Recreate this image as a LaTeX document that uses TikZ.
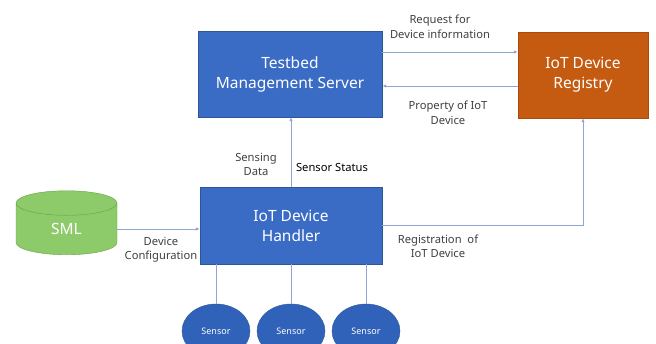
\documentclass[tikz,border=0pt]{standalone}
\usepackage{fontspec}
\setmainfont{Noto Sans}
\usetikzlibrary{positioning,arrows.meta,shapes.geometric}
\definecolor{iotblue}{HTML}{3A6CC6}
\definecolor{iotblueedge}{HTML}{2F5597}
\definecolor{iotorange}{HTML}{C55A11}
\definecolor{iotorangeedge}{HTML}{A84B0C}
\definecolor{iotgreen}{HTML}{8DCB6A}
\definecolor{iotgreenedge}{HTML}{6A9F48}
\definecolor{iotsensor}{HTML}{2F62B8}
\definecolor{iotline}{HTML}{8EA6D2}
\definecolor{iottext}{HTML}{404040}
\tikzset{
  mainbox/.style  ={draw=iotblueedge, fill=iotblue, text=white, align=center,
                    font=\fontsize{15.5}{20}\selectfont, inner sep=0pt},
  regbox/.style   ={mainbox, draw=iotorangeedge, fill=iotorange},
  store/.style    ={cylinder, shape border rotate=90, aspect=0.8,
                    draw=iotgreenedge, fill=iotgreen, text=white,
                    font=\fontsize{15.5}{20}\selectfont, inner sep=0pt},
  sensor/.style   ={ellipse, draw=iotblueedge, fill=iotsensor, text=white,
                    minimum width=68pt, minimum height=54pt, inner sep=0pt,
                    font=\fontsize{9}{10}\selectfont},
  lbl/.style      ={align=center, text=iottext, inner sep=0pt,
                    font=\fontsize{11.2}{14.5}\selectfont},
  link/.style     ={-{Latex[length=4pt,width=3.5pt]}, draw=iotline, line width=0.9pt},
  wire/.style     ={draw=iotline, line width=0.9pt},
}

\begin{document}
\begin{tikzpicture}[x=1pt,y=-1pt]
  \useasboundingbox (0,0) rectangle (656,344);

  \node[mainbox, minimum width=184pt, minimum height=86pt] (server) at (290,74)
    {Testbed\\Management Server};
  \node[regbox, minimum width=130pt, minimum height=86pt] (registry) at (583,75)
    {IoT Device\\Registry};
  \node[mainbox, minimum width=182pt, minimum height=77pt] (handler) at (291,225.5)
    {IoT Device\\Handler};
  \node[store, minimum width=101pt, minimum height=64pt] (sml) at (66.5,229) {SML};

  \foreach \sx [count=\i] in {216,291,366} {
    \node[sensor] (sensor\i) at (\sx,331) {Sensor};
    \draw[wire] (sensor\i.north) -- (sensor\i.north |- handler.south);
  }

  % server <-> registry
  \draw[link] ([yshift=22pt]server.east) -- ([yshift=22pt]server.east -| registry.west);
  \draw[link] ([yshift=-11pt]registry.west) -- ([yshift=-11pt]registry.west -| server.east);
  \node[lbl] (request) at (440,27) {Request for\\Device information};
  \node[lbl] (property) at (448,113) {Property of IoT\\Device};

  % handler -> server
  \draw[link] (handler.north) -- (handler.north |- server.south);
  \node[lbl] (sensing) at (256,164.5) {Sensing\\Data};
  \node[lbl, text=black, font=\fontsize{11.2}{14}\selectfont\bfseries] (status) at (332,168)
    {Sensor Status};

  % sml -> handler
  \draw[link] (sml.east) -- (sml.east -| handler.west);
  \node[lbl] (config) at (161,249.5) {Device\\Configuration};

  % handler -> registry
  \draw[link] (handler.east) -| (registry.south);
  \node[lbl] (regist) at (438,246.5) {Registration~~of\\IoT Device};

\end{tikzpicture}
\end{document}
